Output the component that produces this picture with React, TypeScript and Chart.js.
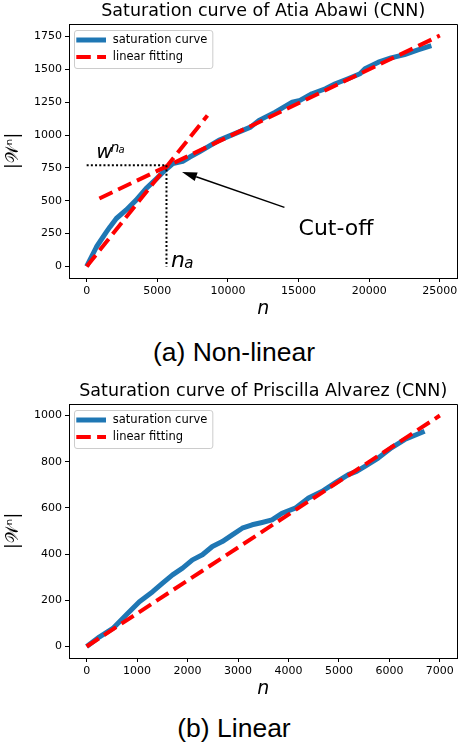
import React, { useEffect, useRef } from 'react';
import { Chart, registerables } from 'chart.js';

Chart.register(...registerables);

// ---------- (a) Atia Abawi ----------
const abawiN = [0, 700, 1400, 1650, 2100, 2800, 3500, 4200, 4950, 5550, 6100, 6800, 7300, 7950, 9350, 10750, 11600, 12200, 13350, 14550, 15100, 15950, 16900, 17600, 18500, 19350, 19700, 20650, 21550, 22500, 23450, 24400];
const abawiW = [0, 150, 263, 301, 365, 430, 505, 593, 669, 732, 783, 800, 833, 871, 960, 1023, 1061, 1112, 1175, 1251, 1264, 1315, 1353, 1391, 1429, 1467, 1505, 1555, 1588, 1613, 1649, 1682];
const abawiFit1N = [0, 8550];
const abawiFit1W = [0, 1150];
const abawiFit2N = [900, 25000];
const abawiFit2W = [517, 1758];
const abawiCutN = 5650;
const abawiCutW = 770;
const abawiXTicks = [0, 5000, 10000, 15000, 20000, 25000];
const abawiYTicks = [0, 250, 500, 750, 1000, 1250, 1500, 1750];

// annotation anchors (data units)
const arrowTail = [14000, 450];
const arrowTip = [6750, 720];
const cutoffLabelAt = [15000, 240];
const wLabelAt = [680, 823];
const naLabelAt = [5965, -3];

// ---------- (b) Priscilla Alvarez ----------
const alvarezN = [0, 256, 519, 782, 1045, 1308, 1505, 1702, 1900, 2097, 2294, 2491, 2688, 2886, 3083, 3280, 3477, 3674, 3871, 4134, 4397, 4660, 4923, 5186, 5350, 5515, 5778, 6040, 6303, 6698];
const alvarezW = [0, 42, 78, 136, 194, 237, 274, 310, 339, 375, 397, 433, 454, 483, 512, 527, 537, 548, 577, 599, 643, 671, 708, 744, 758, 780, 816, 860, 896, 932];
const alvarezFitN = [0, 7000];
const alvarezFitW = [0, 1000];
const alvarezXTicks = [0, 1000, 2000, 3000, 4000, 5000, 6000, 7000];
const alvarezYTicks = [0, 200, 400, 600, 800, 1000];

const FONT = "'DejaVu Sans', sans-serif";
const BLUE = '#1f77b4';
const RED = '#ff0000';
const W = 459;
const H = 330;

function pts(xs: number[], ys: number[]) {
  return xs.map((x, i) => ({ x, y: ys[i] }));
}

function padRange(vals: number[]) {
  const lo = Math.min(...vals);
  const hi = Math.max(...vals);
  const m = (hi - lo) * 0.05;
  return { min: lo - m, max: hi + m };
}

function curveDs(label: string, xs: number[], ys: number[]) {
  return {
    label, data: pts(xs, ys), showLine: true, borderColor: BLUE, backgroundColor: BLUE,
    borderWidth: 5, pointRadius: 0, borderJoinStyle: 'round', borderCapStyle: 'butt', order: 2,
  };
}
function fitDs(label: string, xs: number[], ys: number[]) {
  return {
    label, data: pts(xs, ys), showLine: true, borderColor: RED, backgroundColor: RED,
    borderWidth: 4, borderDash: [14.5, 6.3], pointRadius: 0, order: 1,
  };
}
function dotDs(xs: number[], ys: number[]) {
  return {
    label: '', data: pts(xs, ys), showLine: true, borderColor: '#000', backgroundColor: '#000',
    borderWidth: 2, borderDash: [2, 2.2], pointRadius: 0, order: 0,
  };
}

const framePlugin = {
  id: 'mplFrame',
  afterDraw(chart: any) {
    const { ctx, chartArea: a } = chart;
    ctx.save();
    ctx.strokeStyle = '#000';
    ctx.lineWidth = 1;
    ctx.beginPath();
    const t = Math.floor(a.top) + 0.5;
    const r = Math.floor(a.right) + 0.5;
    ctx.moveTo(Math.floor(a.left) + 0.5, t);
    ctx.lineTo(r, t);
    ctx.lineTo(r, Math.floor(a.bottom) + 0.5);
    ctx.stroke();

    // legend box (matplotlib style, upper left inside the axes)
    const seen = new Set<string>();
    const items = chart.data.datasets.filter((d: any) => {
      if (!d.label || seen.has(d.label)) return false;
      seen.add(d.label);
      return true;
    });
    items.sort((p: any, q: any) => q.order - p.order);
    ctx.font = `11.5px ${FONT}`;
    const textW = Math.max(...items.map((d: any) => ctx.measureText(d.label).width));
    const fx = Math.floor(a.left) + 5.5;
    const fy = Math.floor(a.top) + 6.5;
    const fw = 38.3 + textW + 5.5;
    const fh = 38;
    ctx.beginPath();
    ctx.roundRect(fx, fy, fw, fh, 2.5);
    ctx.fillStyle = 'rgba(255,255,255,0.8)';
    ctx.fill();
    ctx.strokeStyle = '#cccccc';
    ctx.lineWidth = 1;
    ctx.stroke();
    items.forEach((d: any, i: number) => {
      const cy = fy + 9.5 + i * 17;
      ctx.save();
      ctx.strokeStyle = d.borderColor;
      ctx.lineWidth = d.borderWidth;
      ctx.setLineDash(d.borderDash || []);
      ctx.beginPath();
      ctx.moveTo(fx + 1.8, cy);
      ctx.lineTo(fx + 31.5, cy);
      ctx.stroke();
      ctx.restore();
      ctx.fillStyle = '#000';
      ctx.textBaseline = 'middle';
      ctx.textAlign = 'left';
      ctx.fillText(d.label, fx + 38.3, cy + 0.5);
    });
    ctx.restore();
  },
};

const notesPlugin = {
  id: 'mplNotes',
  afterDatasetsDraw(chart: any) {
    const { ctx } = chart;
    const xs = chart.scales.x;
    const ys = chart.scales.y;
    const px = (v: number) => xs.getPixelForValue(v);
    const py = (v: number) => ys.getPixelForValue(v);
    ctx.save();
    // arrow
    const x1 = px(arrowTail[0]), y1 = py(arrowTail[1]);
    const x2 = px(arrowTip[0]), y2 = py(arrowTip[1]);
    const ang = Math.atan2(y2 - y1, x2 - x1);
    const hl = 15, hw = 4.5;
    const bx = x2 - hl * Math.cos(ang), by = y2 - hl * Math.sin(ang);
    ctx.strokeStyle = '#000';
    ctx.fillStyle = '#000';
    ctx.lineWidth = 1.5;
    ctx.beginPath();
    ctx.moveTo(x1, y1);
    ctx.lineTo(bx, by);
    ctx.stroke();
    ctx.beginPath();
    ctx.moveTo(x2, y2);
    ctx.lineTo(bx + hw * Math.sin(ang), by - hw * Math.cos(ang));
    ctx.lineTo(bx - hw * Math.sin(ang), by + hw * Math.cos(ang));
    ctx.closePath();
    ctx.fill();

    ctx.textAlign = 'left';
    ctx.textBaseline = 'alphabetic';
    // Cut-off
    ctx.font = `22px ${FONT}`;
    ctx.fillText('Cut-off', px(cutoffLabelAt[0]), py(cutoffLabelAt[1]));
    // w^{n_a}
    const wx = px(wLabelAt[0]), wy = py(wLabelAt[1]);
    ctx.font = `italic 20px ${FONT}`;
    ctx.fillText('w', wx, wy);
    ctx.font = `italic 14px ${FONT}`;
    ctx.fillText('n', wx + 14.3, wy - 6.3);
    ctx.font = `italic 10px ${FONT}`;
    ctx.fillText('a', wx + 22.3, wy - 5);
    // n_a
    const nx = px(naLabelAt[0]), ny = py(naLabelAt[1]);
    ctx.font = `italic 22px ${FONT}`;
    ctx.fillText('n', nx, ny);
    ctx.font = `italic 15px ${FONT}`;
    ctx.fillText('a', nx + 13.3, ny + 1.6);
    ctx.restore();
  },
};

function buildConfig(p: { title: string; datasets: any[]; xTicks: number[]; yTicks: number[]; notes?: boolean }) {
  const allX = p.datasets.flatMap((d) => d.data.map((q: any) => q.x));
  const allY = p.datasets.flatMap((d) => d.data.map((q: any) => q.y));
  const xr = padRange(allX);
  const yr = padRange(allY);
  const tickFont = { family: FONT, size: 11 };
  return {
    type: 'scatter',
    data: { datasets: p.datasets },
    options: {
      responsive: false,
      animation: false,
      devicePixelRatio: 1,
      layout: { padding: { left: 0, right: 1.5, top: 0, bottom: 0 } },
      plugins: {
        legend: { display: false },
        tooltip: { enabled: false },
        title: {
          display: true, text: p.title, fullSize: false, color: '#000',
          font: { family: FONT, size: 17.5, weight: 'normal', lineHeight: 1.2 },
          padding: { top: 1.3, bottom: 1.7 },
        },
      },
      scales: {
        x: {
          type: 'linear', min: xr.min, max: xr.max,
          afterBuildTicks: (s: any) => { s.ticks = p.xTicks.map((v) => ({ value: v })); },
          afterFit: (s: any) => { s.height = 52; s.paddingLeft = 0; s.paddingRight = 0; },
          ticks: { color: '#000', font: tickFont, padding: 3, maxRotation: 0, autoSkip: false, callback: (v: any) => String(v) },
          grid: { drawOnChartArea: false, drawTicks: true, tickLength: 4, color: '#000' },
          border: { display: true, color: '#000', width: 1 },
          title: { display: true, text: 'n', color: '#000', font: { family: FONT, size: 19, style: 'italic' }, padding: { top: 0, bottom: 9.6 } },
        },
        y: {
          type: 'linear', min: yr.min, max: yr.max,
          afterBuildTicks: (s: any) => { s.ticks = p.yTicks.map((v) => ({ value: v })); },
          afterFit: (s: any) => { s.width = 69; s.paddingTop = 0; s.paddingBottom = 0; },
          ticks: { color: '#000', font: tickFont, padding: 3, autoSkip: false, callback: (v: any) => String(v) },
          grid: { drawOnChartArea: false, drawTicks: true, tickLength: 4, color: '#000' },
          border: { display: true, color: '#000', width: 1 },
          title: { display: true, text: '|𝒲ⁿ|', color: '#000', font: { family: FONT, size: 17 }, padding: { top: 3.3, bottom: 0 } },
        },
      },
    },
    plugins: p.notes ? [framePlugin, notesPlugin] : [framePlugin],
  };
}

function configA() {
  return buildConfig({
    title: 'Saturation curve of Atia Abawi (CNN)',
    datasets: [
      curveDs('saturation curve', abawiN, abawiW),
      fitDs('linear fitting', abawiFit1N, abawiFit1W),
      fitDs('', abawiFit2N, abawiFit2W),
      dotDs([0, abawiCutN], [abawiCutW, abawiCutW]),
      dotDs([abawiCutN, abawiCutN], [abawiCutW, 0]),
    ],
    xTicks: abawiXTicks,
    yTicks: abawiYTicks,
    notes: true,
  });
}

function configB() {
  return buildConfig({
    title: 'Saturation curve of Priscilla Alvarez (CNN)',
    datasets: [
      curveDs('saturation curve', alvarezN, alvarezW),
      fitDs('linear fitting', alvarezFitN, alvarezFitW),
    ],
    xTicks: alvarezXTicks,
    yTicks: alvarezYTicks,
  });
}

function Panel({ build, top }: { build: () => any; top: number }) {
  const ref = useRef<HTMLCanvasElement>(null);
  useEffect(() => {
    const chart = new Chart(ref.current as HTMLCanvasElement, build());
    return () => chart.destroy();
  }, []);
  return (
    <canvas
      ref={ref}
      width={W}
      height={H}
      style={{ position: 'absolute', left: 0, top, width: W, height: H, display: 'block' }}
    />
  );
}

const captionStyle: React.CSSProperties = {
  position: 'absolute', left: 34, width: 400, textAlign: 'center',
  fontFamily: "'Liberation Sans', Arial, sans-serif", fontSize: 26.5, lineHeight: '30px', color: '#000',
};

export default function App() {
  return (
    <div style={{ position: 'absolute', left: 0, top: 0, width: W, height: 749, overflow: 'hidden', background: '#fff' }}>
      <Panel build={configA} top={0} />
      <div style={{ ...captionStyle, top: 336.5 }}>(a) Non-linear</div>
      <Panel build={configB} top={380} />
      <div style={{ ...captionStyle, top: 712.5 }}>(b) Linear</div>
    </div>
  );
}
